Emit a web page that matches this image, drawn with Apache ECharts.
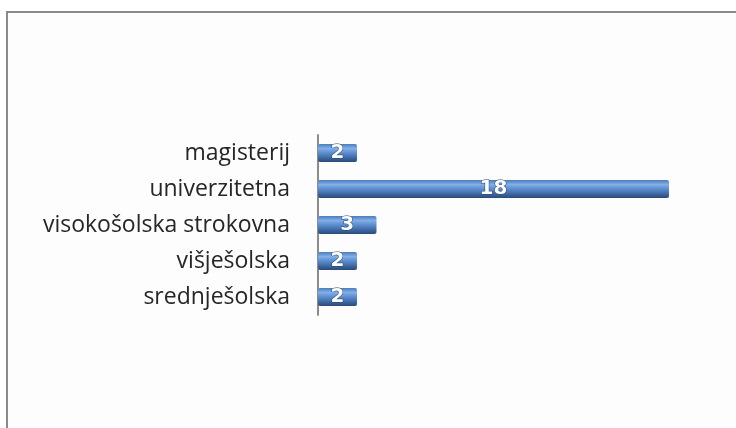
<!DOCTYPE html>
<html>
<head>
<meta charset="utf-8">
<script src="https://cdn.jsdelivr.net/npm/echarts@6/dist/echarts.min.js"></script>
<style>
  html, body { margin: 0; padding: 0; background: #fff; }
  #chart { width: 736px; height: 428px; }
</style>
</head>
<body>
<div id="chart"></div>
<script>
const categories = ['srednješolska', 'višješolska', 'visokošolska strokovna', 'univerzitetna', 'magisterij'];
const counts = [2, 2, 3, 18, 2];

const chart = echarts.init(document.getElementById('chart'));

const barColor = new echarts.graphic.LinearGradient(0, 0, 0, 1, [
  { offset: 0, color: '#4a7cbc' },
  { offset: 0.25, color: '#82afe6' },
  { offset: 0.5, color: '#5b8dd0' },
  { offset: 1, color: '#284a7a' }
]);

chart.setOption({
  backgroundColor: '#ffffff',
  animation: false,
  graphic: [
    {
      type: 'rect',
      shape: { x: 7, y: 12, width: 760, height: 440 },
      style: { fill: '#fdfdfd', stroke: '#8a8a8a', lineWidth: 2 },
      z: -10
    }
  ],
  grid: {
    left: 318,
    right: 67,
    top: 135,
    bottom: 113
  },
  xAxis: {
    type: 'value',
    min: 0,
    max: 18,
    show: false
  },
  yAxis: {
    type: 'category',
    data: categories,
    axisLine: { show: true, lineStyle: { color: '#8c8c8c', width: 2 } },
    axisTick: { show: false },
    axisLabel: {
      margin: 28,
      fontFamily: 'Open Sans',
      fontSize: 23,
      color: '#262626'
    }
  },
  series: [
    {
      type: 'bar',
      data: counts,
      barWidth: 18,
      itemStyle: {
        color: barColor,
        borderRadius: 2
      },
      label: {
        show: true,
        position: 'inside',
        fontFamily: 'DejaVu Sans',
        fontWeight: 'bold',
        fontSize: 20,
        color: '#fff',
        textBorderColor: '#23426b',
        textBorderWidth: 1
      }
    }
  ]
});
</script>
</body>
</html>
